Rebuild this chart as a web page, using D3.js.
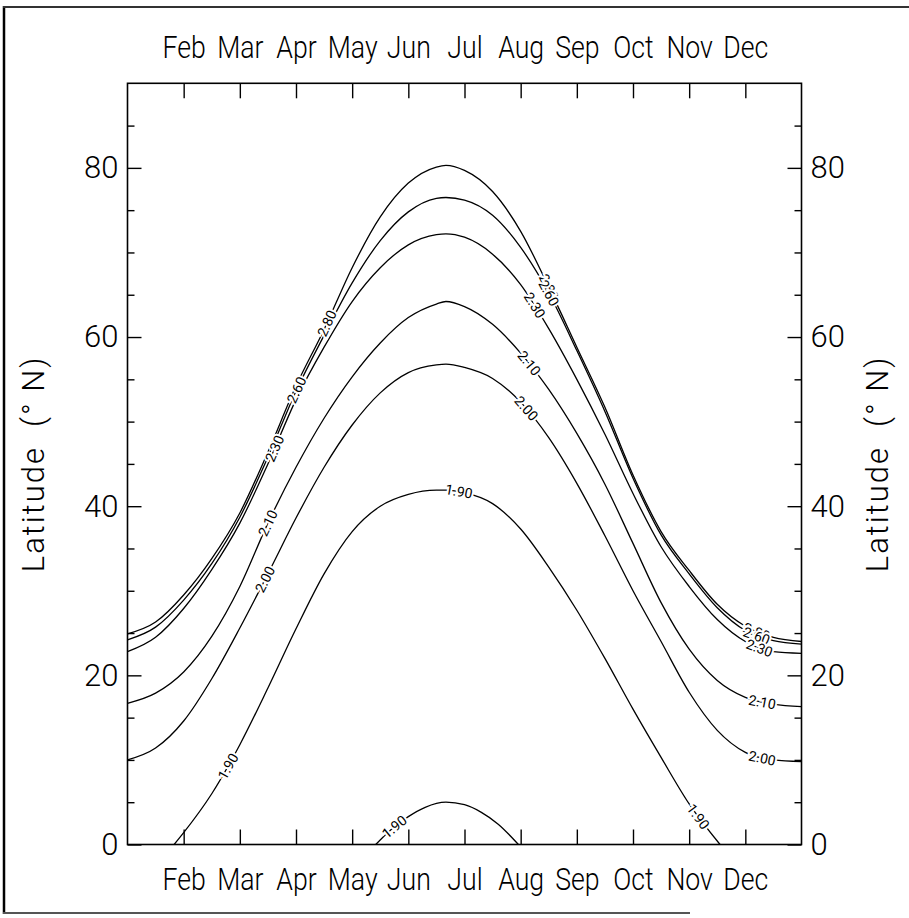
<!DOCTYPE html>
<html>
<head>
<meta charset="utf-8">
<script src="https://cdn.jsdelivr.net/npm/d3@7/dist/d3.min.js"></script>
<style>
body { margin: 0; background: #fff; }
text { font-family: Roboto, "Open Sans", sans-serif; }
</style>
</head>
<body>
<svg id="chart" width="909" height="918"></svg>
<script>
// month boundaries (0 = 1 Jan, 12 = 1 Jan next year) and their labels
const monthTicks = [1, 2, 3, 4, 5, 6, 7, 8, 9, 10, 11];
const monthNames = ["Feb", "Mar", "Apr", "May", "Jun", "Jul", "Aug", "Sep", "Oct", "Nov", "Dec"];
const latMajor = [0, 20, 40, 60, 80];
const latMinor = [5, 10, 15, 25, 30, 35, 45, 50, 55, 65, 70, 75, 85];

// contour lines: month position -> latitude
const gridM = [0, 0.5, 1, 1.5, 2, 2.5, 3, 3.5, 4, 4.5, 5, 5.5, 5.67, 6, 6.5, 7, 7.5, 8, 8.5, 9, 9.5, 10, 10.5, 11, 11.5, 12];
const lat280 = [24.9, 26.3, 29.5, 33.8, 39.2, 46.4, 54.2, 60.9, 68.2, 74.2, 78.2, 80.1, 80.3, 79.7, 77.2, 72.5, 65.9, 58.8, 51.7, 43.7, 37.0, 32.4, 28.4, 25.8, 24.5, 24.0];
const lat260 = [24.2, 25.7, 28.9, 33.2, 38.7, 45.8, 53.6, 60.2, 66.4, 71.4, 74.8, 76.4, 76.5, 76.2, 74.4, 70.6, 65.2, 58.4, 51.2, 43.3, 36.6, 32.0, 28.0, 25.3, 24.1, 23.7];
const lat230 = [22.8, 24.5, 27.9, 32.5, 38.0, 45.0, 52.6, 58.8, 64.2, 68.2, 70.9, 72.1, 72.2, 71.8, 69.8, 66.2, 61.0, 55.0, 48.5, 41.5, 35.2, 30.5, 26.6, 24.0, 22.8, 22.6];
const lat210 = [16.7, 17.9, 20.4, 24.6, 30.5, 38.0, 44.6, 50.4, 55.3, 59.3, 62.3, 63.9, 64.2, 63.6, 61.5, 58.1, 53.8, 48.6, 42.6, 35.6, 28.6, 23.1, 19.4, 17.4, 16.6, 16.3];
const lat200 = [10.0, 11.4, 14.6, 19.6, 25.6, 32.0, 38.6, 44.6, 49.6, 53.4, 55.8, 56.7, 56.8, 56.4, 55.1, 52.3, 48.1, 42.7, 36.5, 30.0, 24.0, 18.0, 13.5, 10.9, 10.0, 9.8];
const bigM = [0.83, 1, 1.5, 2, 2.5, 3, 3.5, 4, 4.5, 5, 5.5, 5.67, 6, 6.5, 7, 7.5, 8, 8.5, 9, 9.5, 10, 10.55];
const big190 = [0, 1.4, 6.0, 11.8, 18.5, 25.5, 32.0, 37.0, 40.0, 41.4, 41.9, 41.9, 41.6, 40.3, 37.3, 32.8, 27.7, 22.0, 16.0, 10.3, 4.8, 0];
const smallM = [4.42, 4.7, 5.0, 5.3, 5.67, 6.0, 6.3, 6.6, 6.96];
const small190 = [0, 1.8, 3.3, 4.4, 5.0, 4.7, 3.8, 2.4, 0];

// contour labels: text, which line, month position along it
const labels = [
    ["2.80", "c280", 3.55], ["2.60", "c260", 3.01], ["2.30", "c230", 2.62],
    ["2.10", "c210", 2.5], ["2.00", "c200", 2.45], ["1.90", "big", 1.79],
    ["1.90", "big", 5.9], ["1.90", "small", 4.75],
    ["2.80", "c280", 7.5], ["2.60", "c260", 7.5], ["2.30", "c230", 7.25],
    ["2.10", "c210", 7.15], ["2.00", "c200", 7.1],
    ["2.80", "c280", 11.2], ["2.60", "c260", 11.2], ["2.30", "c230", 11.25],
    ["2.10", "c210", 11.3], ["2.00", "c200", 11.3], ["1.90", "big", 10.16]
];

const box = { left: 127.5, right: 801.5, top: 83.3, bottom: 844.5 };

const svg = d3.select("#chart");

// outer page frame (partial, like the scan)
svg.append("line").attr("x1", 4).attr("y1", 6).attr("x2", 4).attr("y2", 914)
    .attr("stroke", "#000").attr("stroke-width", 2.5);
svg.append("line").attr("x1", 3).attr("y1", 7).attr("x2", 909).attr("y2", 7)
    .attr("stroke", "#333").attr("stroke-width", 2);
svg.append("line").attr("x1", 3).attr("y1", 913).attr("x2", 690).attr("y2", 913)
    .attr("stroke", "#555").attr("stroke-width", 2);

const x = d3.scaleLinear().domain([0, 12]).range([box.left, box.right]);
const y = d3.scaleLinear().domain([0, 90]).range([box.bottom, box.top]);

function styleAxis(g, size, squeeze) {
    g.select(".domain").remove();
    g.selectAll(".tick line").attr("stroke", "#000").attr("stroke-width", 1.4);
    g.selectAll("text").attr("fill", "#000").attr("font-size", size).attr("font-weight", 300)
        .style("font-family", "Roboto, sans-serif");
    if (squeeze) {
        // the plotted font is narrower than Roboto
        g.selectAll("text").each(function() {
            const w = this.getComputedTextLength();
            d3.select(this).attr("textLength", w * squeeze).attr("lengthAdjust", "spacingAndGlyphs");
        });
    }
}

// month axes
svg.append("g").attr("transform", "translate(0," + box.bottom + ")")
    .call(d3.axisBottom(x).tickValues(monthTicks).tickFormat((d, i) => monthNames[i])
        .tickSizeInner(-15).tickSizeOuter(0).tickPadding(23))
    .call(g => styleAxis(g, 31, 0.86));
svg.append("g").attr("transform", "translate(0," + box.top + ")")
    .call(d3.axisTop(x).tickValues(monthTicks).tickFormat((d, i) => monthNames[i])
        .tickSizeInner(-15).tickSizeOuter(0).tickPadding(25))
    .call(g => styleAxis(g, 31, 0.86));

// latitude axes
svg.append("g").attr("transform", "translate(" + box.left + ",0)")
    .call(d3.axisLeft(y).tickValues(latMajor).tickSizeInner(-14).tickSizeOuter(0).tickPadding(9))
    .call(g => styleAxis(g, 31));
svg.append("g").attr("transform", "translate(" + box.left + ",0)")
    .call(d3.axisLeft(y).tickValues(latMinor).tickFormat("").tickSizeInner(-7).tickSizeOuter(0))
    .call(g => styleAxis(g, 31));
svg.append("g").attr("transform", "translate(" + box.right + ",0)")
    .call(d3.axisRight(y).tickValues(latMajor).tickSizeInner(-14).tickSizeOuter(0).tickPadding(9))
    .call(g => styleAxis(g, 31));
svg.append("g").attr("transform", "translate(" + box.right + ",0)")
    .call(d3.axisRight(y).tickValues(latMinor).tickFormat("").tickSizeInner(-7).tickSizeOuter(0))
    .call(g => styleAxis(g, 31));

svg.append("rect")
    .attr("x", box.left).attr("y", box.top)
    .attr("width", box.right - box.left).attr("height", box.bottom - box.top)
    .attr("fill", "none").attr("stroke", "#000").attr("stroke-width", 1.6);

// axis titles
[33, 877].forEach(cx => {
    svg.append("text")
        .attr("transform", "translate(" + cx + "," + (box.top + box.bottom) / 2 + ") rotate(-90)")
        .attr("text-anchor", "middle").attr("dy", "0.35em")
        .attr("font-size", 31).attr("font-weight", 300).attr("letter-spacing", 2)
        .style("white-space", "pre")
        .text("Latitude  (° N)");
});

// contour lines
const zip = (ms, lats) => ms.map((m, i) => [m, lats[i]]);
const curves = {
    c280: zip(gridM, lat280), c260: zip(gridM, lat260), c230: zip(gridM, lat230),
    c210: zip(gridM, lat210), c200: zip(gridM, lat200),
    big: zip(bigM, big190), small: zip(smallM, small190)
};

const line = d3.line().x(d => x(d[0])).y(d => y(d[1])).curve(d3.curveMonotoneX);

svg.append("clipPath").attr("id", "plotclip").append("rect")
    .attr("x", box.left).attr("y", box.top)
    .attr("width", box.right - box.left).attr("height", box.bottom - box.top);

const plot = svg.append("g").attr("clip-path", "url(#plotclip)");
const paths = {};
Object.keys(curves).forEach(k => {
    paths[k] = plot.append("path").datum(curves[k])
        .attr("d", line).attr("fill", "none")
        .attr("stroke", "#000").attr("stroke-width", 1.3)
        .node();
});

// find the point on a path where it reaches screen x
function pointAtX(node, px) {
    let lo = 0, hi = node.getTotalLength();
    for (let i = 0; i < 40; i++) {
        const mid = (lo + hi) / 2;
        if (node.getPointAtLength(mid).x < px) lo = mid; else hi = mid;
    }
    const p = node.getPointAtLength(lo);
    const a = node.getPointAtLength(Math.max(0, lo - 4));
    const b = node.getPointAtLength(lo + 4);
    return { x: p.x, y: p.y, angle: Math.atan2(b.y - a.y, b.x - a.x) * 180 / Math.PI };
}

const labelLayer = svg.append("g");
labels.forEach(([txt, key, m]) => {
    const p = pointAtX(paths[key], x(m));
    labelLayer.append("text")
        .attr("transform", "translate(" + p.x + "," + p.y + ") rotate(" + p.angle + ")")
        .attr("text-anchor", "middle").attr("dy", "0.35em")
        .attr("font-size", 14)
        .attr("stroke", "#fff").attr("stroke-width", 4).attr("paint-order", "stroke")
        .attr("fill", "#000")
        .text(txt);
});
</script>
</body>
</html>
